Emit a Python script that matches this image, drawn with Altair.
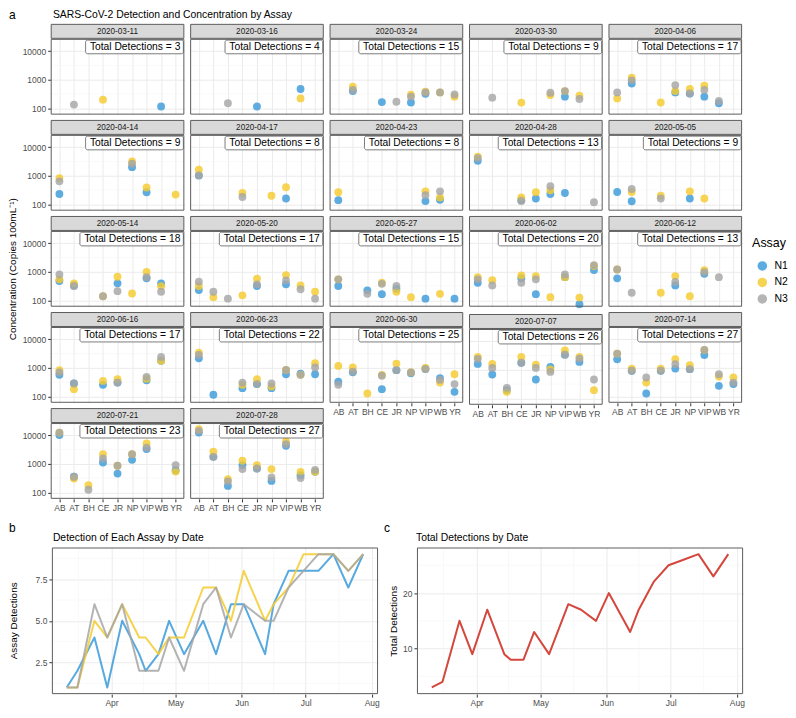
import altair as alt
import pandas as pd

FONT = "Liberation Sans"
DATES = ["2020-03-11", "2020-03-16", "2020-03-24", "2020-03-30", "2020-04-06",
         "2020-04-14", "2020-04-17", "2020-04-23", "2020-04-28", "2020-05-05",
         "2020-05-14", "2020-05-20", "2020-05-27", "2020-06-02", "2020-06-12",
         "2020-06-16", "2020-06-23", "2020-06-30", "2020-07-07", "2020-07-14",
         "2020-07-21", "2020-07-28"]
SITES = ["AB", "AT", "BH", "CE", "JR", "NP", "VIP", "WB", "YR"]
ASSAYS = ["N1", "N2", "N3"]
COLORS = ["#3A9AD9", "#F5CB2E", "#A6A6A6"]
TOTALS = [3, 4, 15, 9, 17, 9, 8, 8, 13, 9, 18, 17, 15, 20, 13, 17, 22, 25, 26, 27, 23, 27]
N1_COUNT = [1, 2, 4, 1, 5, 3, 2, 3, 5, 3, 5, 3, 6, 6, 3, 6, 8, 8, 8, 9, 7, 9]
N2_COUNT = [1, 1, 5, 4, 6, 4, 4, 3, 4, 4, 7, 7, 5, 8, 5, 6, 7, 9, 9, 9, 8, 9]
N3_COUNT = [1, 1, 6, 4, 6, 2, 2, 2, 4, 2, 6, 7, 4, 6, 5, 5, 7, 8, 9, 9, 8, 9]
_ = None
# site order: AB, AT, BH, CE, JR, NP, VIP, WB, YR
N1_CONC = [
    [_, _, _, _, _, _, _, 115, _],
    [_, _, _, _, 115, _, _, 475, _],
    [_, 400, _, 165, _, 160, 320, _, _],
    [_, _, _, _, _, _, 255, _, _],
    [_, 740, _, _, 360, 330, 255, 150, _],
    [230, _, _, _, _, 2000, 265, _, _],
    [1030, _, _, _, _, _, 160, _, _],
    [140, _, _, _, _, _, 130, 145, _],
    [3350, _, _, 140, 160, 230, 250, _, _],
    [270, 128, _, _, _, 160, _, _, _],
    [475, 340, _, _, 395, _, 590, 395, _],
    [230, _, _, _, 320, _, 365, _, _],
    [320, _, 225, 165, 250, _, 115, _, 115],
    [415, _, _, 600, 165, _, 650, 73, 1150],
    [590, _, _, _, 335, _, 850, _, _],
    [570, 285, _, 255, 305, _, 370, 1770, _],
    [2170, 115, _, 195, 270, 195, 600, 630, 600],
    [330, 700, _, 180, 830, 650, 930, 440, 145],
    [1620, 690, 195, 1770, 460, 1270, 3400, 1900, _],
    [2000, 790, 127, 790, 945, 900, 2830, 235, 270],
    [10200, 355, _, 1120, 460, 1390, 3300, _, 600],
    [12500, 1770, 170, 910, 690, 255, 4300, 405, 530],
]
N2_CONC = [
    [_, _, _, 200, _, _, _, _, _],
    [_, _, _, _, _, _, _, 222, _],
    [_, 570, _, _, _, 300, 380, 360, 255],
    [_, _, _, 158, _, 290, 400, 277, _],
    [222, 1170, _, 160, 400, 475, 620, _, _],
    [830, _, _, _, _, 3170, 390, _, 220],
    [1630, _, _, 250, _, 200, 395, _, _],
    [265, _, _, _, _, _, 285, 175, _],
    [4700, _, _, 175, 265, 310, _, _, _],
    [_, 270, _, 200, _, 285, 160, _, _],
    [545, 395, _, 140, 670, 175, 1000, 315, _],
    [320, 130, _, 150, 570, _, 770, 335, 200],
    [545, _, _, 415, 200, 130, _, 170, _],
    [650, 510, _, 750, 710, 130, 650, 125, 1600],
    [1210, _, _, 185, 710, 140, 1150, _, _],
    [830, 180, _, 350, 400, _, 420, 1770, _],
    [3400, _, _, 255, 400, 225, 850, 570, 1450],
    [1170, 1030, 127, 570, 1410, 700, 1000, 305, 600],
    [2830, 1620, 170, 2830, 1530, 1030, 4840, 2830, 195],
    [3150, 945, 305, 945, 2000, 1240, 4220, 500, 460],
    [12500, 310, 180, 2200, 860, 2200, 5200, _, 540],
    [16500, 2700, 290, 1290, 910, 660, 6100, 530, 530],
]
N3_CONC = [
    [_, 135, _, _, _, _, _, _, _],
    [_, _, 150, _, _, _, _, _, _],
    [_, 440, _, _, 170, 255, 360, 360, 305],
    [_, 236, _, _, _, 350, 400, 212, _],
    [360, 950, _, _, 650, 330, 440, 180, _],
    [640, _, _, _, _, 2640, _, _, _],
    [1030, _, _, 180, _, _, _, _, _],
    [_, _, _, _, _, _, 210, 285, _],
    [4150, _, _, 130, _, 430, _, _, 118],
    [_, 345, _, 160, _, _, _, _, _],
    [810, 315, _, 140, 210, _, 650, 200, _],
    [450, 200, 115, _, 365, _, 500, 245, 115],
    [545, _, 170, 380, 320, _, _, _, _],
    [545, 335, _, 415, 545, _, 810, _, 1710],
    [1210, 185, _, _, 440, _, 980, 650, _],
    [690, 285, _, _, 305, _, 485, 2420, _],
    [2830, _, _, 305, 270, 285, 850, 570, 1030],
    [255, 740, _, 530, 830, 690, 900, 380, 270],
    [2420, 1170, 235, 1770, 1170, 850, 3400, 2470, 460],
    [3150, 790, 460, 790, 1350, 900, 4220, 600, 305],
    [12500, 355, 125, 1550, 860, 2200, 3730, _, 910],
    [14400, 1770, 245, 660, 690, 335, 4900, 320, 620],
]
Y_TICKS = [100, 1000, 10000]
Y_MINOR = [316.23, 3162.3]
MONTHS = [(4, 1), (5, 1), (6, 1), (7, 1), (8, 1)]
MINOR_DATES = ["2020-03-16T12:00:00Z", "2020-04-16T00:00:00Z", "2020-05-16T12:00:00Z",
               "2020-06-16T00:00:00Z", "2020-07-16T12:00:00Z"]

# ---------- styling constants ----------
W, PH, SH, VS, HS = 134, 76, 15, 5.3, 3.8
GRID_H = 5 * (SH + PH) + 4 * VS
LAB = "#4D4D4D"
GRID = "#EBEBEB"
MINOR = "#F5F5F5"
BORDER = "#5C5C5C"

rows = []
for i, d in enumerate(DATES):
    for k, arr in enumerate([N1_CONC, N2_CONC, N3_CONC]):
        for s, v in zip(SITES, arr[i]):
            if v is not None:
                rows.append({"date": d, "site": s, "assay": ASSAYS[k], "conc": v, "ord": k})
pts_df = pd.DataFrame(rows)

yscale = alt.Scale(type="log", domain=[60, 27000], nice=False)
color_scale = alt.Scale(domain=ASSAYS, range=COLORS)
legend = alt.Legend(title="Assay", orient="none", legendX=745, legendY=229,
                    titleFontSize=12.5, titleFontWeight="normal", titleColor="black",
                    labelFontSize=10.5, labelColor="black", symbolSize=65, symbolType="circle",
                    rowPadding=1.5, labelOffset=7, symbolOffset=5, titlePadding=11,
                    titleFont=FONT, labelFont=FONT)


def border(w, h):
    return alt.Chart(pd.DataFrame({"b": [0]})).mark_rect(
        fill="transparent", stroke=BORDER, strokeWidth=1).encode(
        x=alt.value(0.5), x2=alt.value(w - 0.5), y=alt.value(0.5), y2=alt.value(h - 0.5))


def text_chart(items, width, height):
    layers = []
    for text, x, y, size, angle in items:
        layers.append(alt.Chart(pd.DataFrame({"t": [text]})).mark_text(
            align="left" if angle == 0 else "center", baseline="middle", fontSize=size,
            color="black", font=FONT, angle=angle).encode(
            x=alt.value(x), y=alt.value(y), text="t:N"))
    return alt.layer(*layers).properties(width=width, height=height)


def strip_chart(label):
    base = alt.Chart(pd.DataFrame({"label": [label]}))
    rect = base.mark_rect(fill="#D9D9D9", stroke=BORDER, strokeWidth=1).encode(
        x=alt.value(0.5), x2=alt.value(W - 0.5), y=alt.value(0.5), y2=alt.value(SH - 0.5))
    txt = base.mark_text(fontSize=8.2, color="#1A1A1A", font=FONT).encode(
        x=alt.value(W / 2), y=alt.value(SH / 2 + 0.5), text="label:N")
    return alt.layer(rect, txt).properties(width=W, height=SH)


def plot_chart(i, col, show_x):
    sub = pts_df[pts_df["date"] == DATES[i]]
    if col == 0:
        yaxis = alt.Axis(values=Y_TICKS, format="d", labelFontSize=8.5, labelColor=LAB,
                         tickColor="#333333", tickSize=3, labelPadding=2, domain=False,
                         grid=True, gridColor=GRID, title=None, labelFont=FONT)
    else:
        yaxis = alt.Axis(values=Y_TICKS, labels=False, ticks=False, domain=False,
                         grid=True, gridColor=GRID, title=None)
    if show_x:
        xaxis = alt.Axis(labelAngle=0, labelFontSize=8.5, labelColor=LAB, tickColor="#333333",
                         tickSize=3, labelPadding=1.5, domain=False, grid=True, gridColor=GRID,
                         title=None, labelOverlap=False, labelFont=FONT)
    else:
        xaxis = alt.Axis(labels=False, ticks=False, domain=False, grid=True,
                         gridColor=GRID, title=None)
    pts = alt.Chart(sub).mark_circle(size=62, opacity=0.82).encode(
        x=alt.X("site:N", scale=alt.Scale(type="point", domain=SITES, padding=0.6), axis=xaxis),
        y=alt.Y("conc:Q", scale=yscale, axis=yaxis),
        color=alt.Color("assay:N", scale=color_scale, legend=legend),
        order=alt.Order("ord:Q"),
    )
    minor = alt.Chart(pd.DataFrame({"m": Y_MINOR})).mark_rule(
        color=MINOR, strokeWidth=0.6).encode(y=alt.Y("m:Q", scale=yscale, axis=yaxis))
    txt = f"Total Detections = {TOTALS[i]}"
    bw = 98 + 5.7 * (len(str(TOTALS[i])) - 1)
    lab_df = pd.DataFrame({"t": [txt]})
    box = alt.Chart(lab_df).mark_rect(fill="white", stroke=BORDER, strokeWidth=0.8,
                                      cornerRadius=2).encode(
        x=alt.value(W - 1 - bw), x2=alt.value(W - 1), y=alt.value(1.3), y2=alt.value(15))
    lab = alt.Chart(lab_df).mark_text(align="right", fontSize=10.3, color="black",
                                      font=FONT).encode(
        x=alt.value(W - 4), y=alt.value(8.4), text="t:N")
    return alt.layer(minor, pts, box, lab, border(W, PH)).properties(width=W, height=PH)


columns = [text_chart([("Concentration (Copies 100mL\u207b\u00b9)", 4, 246, 10, 270)], 8, GRID_H)]
for col in range(5):
    panels = []
    idxs = [r * 5 + col for r in range(5) if r * 5 + col < len(DATES)]
    for k, i in enumerate(idxs):
        show_x = (k == len(idxs) - 1)
        panels.append(alt.vconcat(strip_chart(DATES[i]), plot_chart(i, col, show_x), spacing=0))
    columns.append(alt.vconcat(*panels, spacing=VS))
gridA = alt.hconcat(*columns, spacing=HS)

headerA = text_chart([("a", 0, 6, 12, 0),
                      ("SARS-CoV-2 Detection and Concentration by Assay", 44, 6, 10.4, 0)], 734, 15)
headerB = text_chart([("b", 0, 15, 12, 0), ("Detection of Each Assay by Date", 44, 25, 10.4, 0),
                      ("c", 376, 15, 12, 0), ("Total Detections by Date", 408, 25, 10.4, 0)], 734, 34)

# ---------- bottom charts ----------
brows = []
for i, d in enumerate(DATES):
    for k, arr in enumerate([N1_COUNT, N2_COUNT, N3_COUNT]):
        brows.append({"date": d, "assay": ASSAYS[k], "count": arr[i], "ord": k})
b_df = pd.DataFrame(brows)
c_df = pd.DataFrame({"date": DATES, "total": TOTALS})

xscale = alt.Scale(type="utc", domain=[alt.DateTime(year=2020, month=3, date=4, hours=1, minutes=12, utc=True),
                                       alt.DateTime(year=2020, month=8, date=3, hours=22, minutes=48, utc=True)])
month_vals = [alt.DateTime(year=2020, month=m, date=d, utc=True) for m, d in MONTHS]

XAX = alt.Axis(values=month_vals, format="%b", labelFontSize=8.5, labelColor=LAB,
               tickColor="#333333", tickSize=3, labelPadding=1.5, domain=False, grid=True,
               gridColor=GRID, title=None, labelFont=FONT)


def y_axis_t(vals, fmt, title, pad):
    kw = dict(values=vals, format=fmt, labelFontSize=8.5, labelColor=LAB,
              tickColor="#333333", tickSize=3, labelPadding=2, domain=False, grid=True,
              gridColor=GRID, labelFont=FONT)
    if title:
        return alt.Axis(title=title, titleFontSize=10, titleFontWeight="normal",
                        titleColor="black", titlePadding=pad, titleFont=FONT, **kw)
    return alt.Axis(title=None, **kw)


BW, BH = 327, 147
yb = alt.Scale(domain=[0.6, 9.4], nice=False, zero=False)
yc = alt.Scale(domain=[1.8, 28.2], nice=False, zero=False)
YAX_B = y_axis_t([2.5, 5.0, 7.5], ".1f", None, 0)
YAX_C = y_axis_t([10, 20], "d", "Total Detections", 4)
minor_x = pd.DataFrame({"d": MINOR_DATES})

b_minx = alt.Chart(minor_x).mark_rule(color=MINOR, strokeWidth=0.6).encode(
    x=alt.X("d:T", scale=xscale, axis=XAX))
b_miny = alt.Chart(pd.DataFrame({"m": [1.25, 3.75, 6.25, 8.75]})).mark_rule(
    color=MINOR, strokeWidth=0.6).encode(y=alt.Y("m:Q", scale=yb, axis=YAX_B))
b_lines = alt.Chart(b_df).mark_line(strokeWidth=2, opacity=0.85, strokeJoin="round").encode(
    x=alt.X("date:T", scale=xscale, axis=XAX),
    y=alt.Y("count:Q", scale=yb, axis=YAX_B),
    stroke=alt.Stroke("assay:N", scale=alt.Scale(domain=ASSAYS, range=COLORS), legend=None),
    detail="assay:N",
)
chart_b = alt.layer(b_minx, b_miny, b_lines, border(BW, BH)).properties(width=BW, height=BH)

c_minx = alt.Chart(minor_x).mark_rule(color=MINOR, strokeWidth=0.6).encode(
    x=alt.X("d:T", scale=xscale, axis=XAX))
c_miny = alt.Chart(pd.DataFrame({"m": [5, 15, 25]})).mark_rule(
    color=MINOR, strokeWidth=0.6).encode(y=alt.Y("m:Q", scale=yc, axis=YAX_C))
c_line = alt.Chart(c_df).mark_line(strokeWidth=2, color="#D4473C", strokeJoin="round").encode(
    x=alt.X("date:T", scale=xscale, axis=XAX),
    y=alt.Y("total:Q", scale=yc, axis=YAX_C),
)
chart_c = alt.layer(c_minx, c_miny, c_line, border(BW, BH)).properties(width=BW, height=BH)

ytitleB = text_chart([("Assay Detections", 5.3, BH / 2, 10, 270)], 17.2, BH)
rowB = alt.hconcat(ytitleB, chart_b, chart_c, spacing=8)

chart = alt.vconcat(headerA, gridA, headerB, rowB, spacing=0).properties(
    padding={"left": 0, "right": 0, "top": 0, "bottom": 0}, background="white"
).configure_view(stroke="transparent", strokeWidth=0)

chart.save("out.html", embed_options={"renderer": "svg", "actions": False})
